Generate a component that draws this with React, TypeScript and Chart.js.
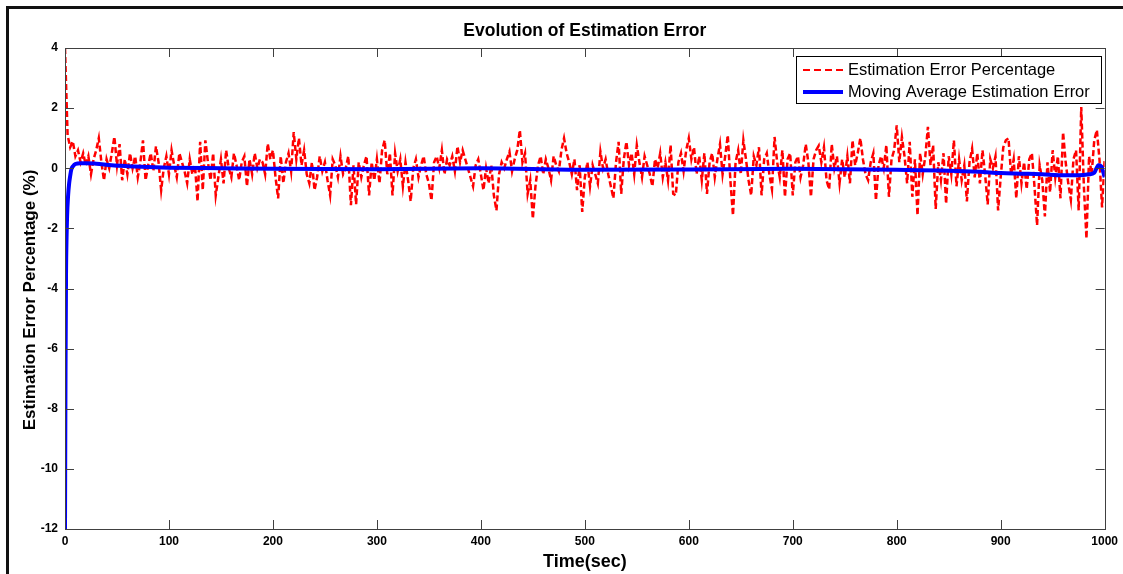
import React, { useEffect, useRef } from "react";
import { Chart, registerables } from "chart.js";

Chart.register(...registerables);

const CHART_TITLE = "Evolution of Estimation Error";
const X_TITLE = "Time(sec)";
const Y_TITLE = "Estimation Error Percentage (%)";
const LEGEND_LABELS = ["Estimation Error Percentage", "Moving Average Estimation Error"];

const X_MIN = 0;
const X_MAX = 1000;
const X_STEP = 100;
const Y_MIN = -12;
const Y_MAX = 4;
const Y_STEP = 2;

// sampling interval of the noisy error series (sec)
const SAMPLE_STEP = 2.5;

// estimation error percentage, one row = 50 sec
const errorValues: number[] = [
  4.0, 1.1, 0.7, 0.9, 0.4, 0.6, 0.2, 0.5, 0.1, 0.4, -0.2, 0.3, 0.6, 1.0, 0.2, -0.4, 0.3, 0.0, 0.5, 1.05,
  0.1, 0.8, -0.4, 0.3, -0.2, 0.5, 0.0, 0.4, -0.3, 0.2, 0.93, -0.4, 0.1, 0.5, -0.1, 0.73, 0.2, -0.73, 0.0, 0.4,
  -0.2, 0.6, 0.1, -0.3, 0.5, 0.2, -0.1, -0.5, 0.3, -0.2, 0.1, -1.1, 0.88, -0.73, 0.93, 0.2, -0.4, 0.5, -0.9, -0.3,
  0.3, -0.5, 0.6, 0.0, -0.3, 0.5, 0.1, -0.4, 0.2, 0.4, -0.6, 0.3, -0.2, 0.5, 0.0, 0.3, 0.2, -0.2, 0.82, 0.3,
  0.6, -0.3, -1.0, 0.4, -0.5, 0.2, 0.5, -0.1, 1.2, 0.3, 1.0, 0.1, 0.6, -0.2, -0.5, 0.2, -0.73, -0.3, 0.4, -0.1,
  0.2, -0.4, -0.9, 0.3, 0.1, -0.3, 0.4, -0.2, 0.0, 0.4, -1.23, 0.1, -1.2, 0.2, -0.3, 0.1, 0.4, -0.9, 0.2, -0.4,
  0.3, -0.5, 0.6, 0.93, -0.2, 0.5, -0.9, 0.5, -0.1, 0.3, -0.6, 0.2, -0.4, -1.1, 0.0, 0.3, -0.3, 0.1, 0.4, -0.2,
  -0.5, -1.07, 0.2, 0.4, 0.0, 0.6, -0.2, 0.3, 0.1, 0.4, -0.1, 0.73, 0.2, 0.6, 0.3, 0.0, -0.3, -0.6, 0.1, 0.3,
  -0.2, -0.73, 0.0, -0.5, 0.1, -0.9, -1.4, -0.2, 0.2, 0.0, 0.3, 0.55, -0.1, 0.3, 0.6, 1.27, 0.2, 0.5, -0.85, -0.4,
  -1.68, -0.6, 0.1, 0.4, -0.2, 0.3, 0.0, -0.4, 0.4, 0.1, -0.1, 0.6, 1.0, 0.5, 0.2, -0.2, 0.3, -0.73, 0.1, -1.45,
  -0.3, 0.2, -0.6, 0.1, -0.2, -0.5, 0.55, 0.0, 0.3, -0.2, -0.6, -1.0, 0.2, 0.88, -0.85, 0.3, 0.88, 0.1, 0.5, -0.2,
  0.77, 0.2, -0.3, 0.4, 0.1, -0.2, -0.6, 0.3, 0.0, 0.5, -0.3, 0.2, -0.4, 0.77, -0.85, -0.9, 0.2, 0.5, -0.1, 0.6,
  1.0, 0.3, 0.7, -0.2, 0.4, -0.4, 0.5, -0.85, 0.2, 0.5, -0.3, 0.3, 0.8, -0.2, 0.4, 1.1, -0.4, -1.57, 0.2, 0.6,
  -0.2, 0.93, 0.3, -0.4, -0.9, 0.4, 0.1, 0.7, -0.9, 0.3, 0.5, -0.2, -0.7, 1.04, 0.2, -0.3, 0.6, -0.95, 0.3, 0.5,
  -0.9, 0.2, 0.4, -0.3, 0.1, 0.8, 0.2, -0.95, 0.3, 0.6, 0.75, 0.2, 0.7, -0.4, -0.7, 0.8, 0.0, 0.4, -0.5, 0.3,
  -0.3, 0.4, -0.5, 0.93, 0.1, 0.5, 1.0, 0.3, -0.2, -0.4, 0.2, 0.5, -1.07, 0.1, 0.4, 0.0, 0.77, -0.95, 0.3, 0.6,
  1.43, 0.2, 1.04, 0.4, -0.5, 0.88, -0.95, 0.3, -1.57, 0.5, -0.2, 0.4, 1.38, 0.1, 0.77, -1.35, 0.2, -0.4, 0.5, -1.18,
  0.4, -0.2, 0.93, -0.6, 0.3, -0.4, 0.1, -1.1, 0.2, 0.65, -0.3, 0.5, -0.5, 0.6, -0.2, -1.2, 0.3, 0.0, 0.4, -1.4,
  -0.3, 0.7, 0.93, 1.0, -0.2, 0.3, -1.0, 0.4, -0.5, 0.2, -0.7, 0.3, 0.5, -0.6, -1.9, 0.1, -0.4, -1.6, 0.2, -0.8,
  0.6, -0.3, 0.4, -1.0, 1.2, 0.2, -0.5, -1.05, 0.3, 0.6, -1.4, 2.04, -0.6, -2.34, 0.4, -0.2, 0.93, 1.27, 0.3, -1.3,
  0.3,
];

// moving average estimation error
const maTimes: number[] = [
  0, 0.5, 1, 1.5, 2, 3, 4, 5, 6, 8, 10, 15, 20, 30, 45, 60, 80, 100, 150, 200,
  300, 400, 500, 600, 700, 750, 800, 850, 880, 900, 920, 940, 960, 975, 985, 990, 994, 997, 1000,
];
const maValues: number[] = [
  -12, -6.8, -3.5, -2.3, -1.6, -0.9, -0.5, -0.25, -0.05, 0.08, 0.14, 0.17, 0.17, 0.15, 0.1, 0.07, 0.04, 0.02, 0.0, -0.02,
  -0.03, 0.0, -0.05, -0.04, -0.02, -0.03, -0.05, -0.08, -0.12, -0.16, -0.18, -0.2, -0.23, -0.23, -0.2, -0.15, 0.1, 0.05, -0.3,
];

const RED = "#ff0000";
const BLUE = "#0000ff";
const FONT = "'Liberation Sans', Arial, sans-serif";

const decorPlugin = {
  id: "matlabDecor",
  afterDraw(chart: any) {
    const { ctx, chartArea, scales } = chart;
    const { left, right, top, bottom } = chartArea;
    const xs = scales.x;
    const ys = scales.y;
    ctx.save();

    // plot box
    ctx.strokeStyle = "#404040";
    ctx.lineWidth = 1;
    ctx.strokeRect(Math.round(left) + 0.5, Math.round(top) + 0.5, Math.round(right - left), Math.round(bottom - top));

    // inward ticks
    const TL = 9;
    ctx.beginPath();
    xs.ticks.forEach((t: any) => {
      const px = Math.round(xs.getPixelForValue(t.value)) + 0.5;
      ctx.moveTo(px, bottom);
      ctx.lineTo(px, bottom - TL);
      ctx.moveTo(px, top);
      ctx.lineTo(px, top + TL);
    });
    ys.ticks.forEach((t: any) => {
      const py = Math.round(ys.getPixelForValue(t.value)) + 0.5;
      ctx.moveTo(left, py);
      ctx.lineTo(left + TL, py);
      ctx.moveTo(right, py);
      ctx.lineTo(right - TL, py);
    });
    ctx.stroke();

    // titles
    ctx.fillStyle = "#000";
    ctx.textAlign = "center";
    ctx.textBaseline = "middle";
    ctx.font = `bold 17.5px ${FONT}`;
    ctx.fillText(CHART_TITLE, (left + right) / 2, 31);
    ctx.font = `bold 18px ${FONT}`;
    ctx.fillText(X_TITLE, (left + right) / 2, 562);
    ctx.font = `bold 17px ${FONT}`;
    ctx.save();
    ctx.translate(30, 300);
    ctx.rotate(-Math.PI / 2);
    ctx.fillText(Y_TITLE, 0, 0);
    ctx.restore();

    // legend
    const lx = 796, ly = 56, lw = 305, lh = 47;
    ctx.fillStyle = "#fff";
    ctx.fillRect(lx, ly, lw, lh);
    ctx.strokeStyle = "#000";
    ctx.lineWidth = 1;
    ctx.strokeRect(lx + 0.5, ly + 0.5, lw, lh);
    ctx.beginPath();
    ctx.strokeStyle = RED;
    ctx.lineWidth = 2;
    ctx.setLineDash([7, 4]);
    ctx.moveTo(803, 70);
    ctx.lineTo(843, 70);
    ctx.stroke();
    ctx.setLineDash([]);
    ctx.beginPath();
    ctx.strokeStyle = BLUE;
    ctx.lineWidth = 4;
    ctx.moveTo(803, 92);
    ctx.lineTo(843, 92);
    ctx.stroke();
    ctx.fillStyle = "#000";
    ctx.textAlign = "left";
    ctx.font = `16.5px ${FONT}`;
    ctx.fillText(LEGEND_LABELS[0], 848, 70);
    ctx.fillText(LEGEND_LABELS[1], 848, 92);

    // outer frame
    ctx.fillStyle = "#111";
    ctx.fillRect(6, 6, 3, chart.height - 6);
    ctx.fillRect(6, 6, chart.width - 6, 3);

    ctx.restore();
  },
};

export default function App() {
  const canvasRef = useRef<HTMLCanvasElement | null>(null);

  useEffect(() => {
    const canvas = canvasRef.current;
    if (!canvas) return;
    const errorData = errorValues.map((v, i) => ({ x: i * SAMPLE_STEP, y: v }));
    const maData = maTimes.map((t, i) => ({ x: t, y: maValues[i] }));

    const chart = new Chart(canvas, {
      type: "line",
      data: {
        datasets: [
          {
            label: LEGEND_LABELS[0],
            data: errorData,
            borderColor: RED,
            borderWidth: 2.5,
            borderDash: [6, 3],
            pointRadius: 0,
            tension: 0,
            order: 1,
          },
          {
            label: LEGEND_LABELS[1],
            data: maData,
            borderColor: BLUE,
            borderWidth: 4,
            pointRadius: 0,
            tension: 0,
            cubicInterpolationMode: "monotone",
            order: 0,
          },
        ],
      },
      options: {
        animation: false,
        responsive: false,
        maintainAspectRatio: false,
        layout: { padding: { top: 48, right: 18, bottom: 0, left: 0 } },
        plugins: {
          legend: { display: false },
          title: { display: false },
          tooltip: { enabled: false },
        },
        scales: {
          x: {
            type: "linear",
            min: X_MIN,
            max: X_MAX,
            grid: { display: false, drawTicks: false },
            border: { display: false },
            ticks: {
              stepSize: X_STEP,
              color: "#000",
              padding: 5,
              maxRotation: 0,
              font: { family: FONT, size: 12, weight: "bold" },
              callback: (v: any) => String(v),
            },
            afterFit: (s: any) => {
              s.height = 45;
            },
          },
          y: {
            type: "linear",
            min: Y_MIN,
            max: Y_MAX,
            grid: { display: false, drawTicks: false },
            border: { display: false },
            ticks: {
              stepSize: Y_STEP,
              color: "#000",
              padding: 7,
              font: { family: FONT, size: 12, weight: "bold" },
              callback: (v: any) => String(v),
            },
            afterFit: (s: any) => {
              s.width = 65;
            },
          },
        },
      },
      plugins: [decorPlugin],
    });

    return () => chart.destroy();
  }, []);

  return (
    <div style={{ position: "absolute", left: 0, top: 0, width: 1123, height: 574, background: "#fff" }}>
      <canvas ref={canvasRef} width={1123} height={574} />
    </div>
  );
}
